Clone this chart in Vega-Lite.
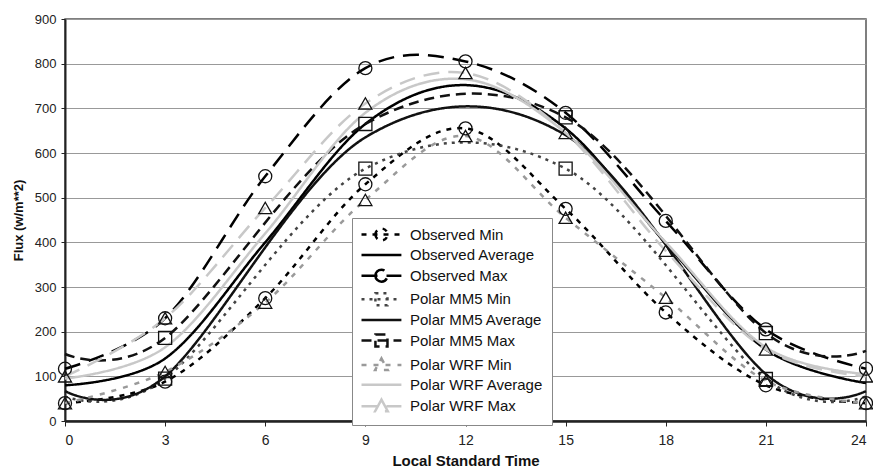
{
  "$schema": "https://vega.github.io/schema/vega-lite/v6.json",
  "width": 801,
  "height": 402,
  "autosize": {"type": "none"},
  "padding": {"left": 65, "top": 19, "right": 7, "bottom": 49},
  "background": "white",
  "config": {
    "font": "Liberation Sans",
    "view": {"stroke": "#555", "strokeWidth": 1.5},
    "axis": {"labelFont": "Liberation Sans", "titleFont": "Liberation Sans", "labelColor": "#222", "titleColor": "#111"}
  },
  "data": {
    "values": [
      {"series": "Observed Min", "hour": 0, "flux": 40},
      {"series": "Observed Min", "hour": 3, "flux": 88},
      {"series": "Observed Min", "hour": 6, "flux": 275},
      {"series": "Observed Min", "hour": 9, "flux": 530},
      {"series": "Observed Min", "hour": 12, "flux": 655},
      {"series": "Observed Min", "hour": 15, "flux": 475},
      {"series": "Observed Min", "hour": 18, "flux": 243},
      {"series": "Observed Min", "hour": 21, "flux": 80},
      {"series": "Observed Min", "hour": 24, "flux": 40},
      {"series": "Observed Average", "hour": 0, "flux": 80},
      {"series": "Observed Average", "hour": 3, "flux": 140},
      {"series": "Observed Average", "hour": 6, "flux": 400},
      {"series": "Observed Average", "hour": 9, "flux": 665},
      {"series": "Observed Average", "hour": 12, "flux": 752},
      {"series": "Observed Average", "hour": 15, "flux": 655},
      {"series": "Observed Average", "hour": 18, "flux": 398},
      {"series": "Observed Average", "hour": 21, "flux": 160},
      {"series": "Observed Average", "hour": 24, "flux": 85},
      {"series": "Observed Max", "hour": 0, "flux": 117},
      {"series": "Observed Max", "hour": 3, "flux": 230},
      {"series": "Observed Max", "hour": 6, "flux": 548},
      {"series": "Observed Max", "hour": 9, "flux": 790},
      {"series": "Observed Max", "hour": 12, "flux": 805},
      {"series": "Observed Max", "hour": 15, "flux": 690},
      {"series": "Observed Max", "hour": 18, "flux": 448},
      {"series": "Observed Max", "hour": 21, "flux": 205},
      {"series": "Observed Max", "hour": 24, "flux": 117},
      {"series": "Polar MM5 Min", "hour": 0, "flux": 55},
      {"series": "Polar MM5 Min", "hour": 3, "flux": 95},
      {"series": "Polar MM5 Min", "hour": 9, "flux": 565},
      {"series": "Polar MM5 Min", "hour": 15, "flux": 565},
      {"series": "Polar MM5 Min", "hour": 21, "flux": 94},
      {"series": "Polar MM5 Min", "hour": 24, "flux": 55},
      {"series": "Polar MM5 Average", "hour": 0, "flux": 67},
      {"series": "Polar MM5 Average", "hour": 3, "flux": 100},
      {"series": "Polar MM5 Average", "hour": 9, "flux": 635},
      {"series": "Polar MM5 Average", "hour": 15, "flux": 640},
      {"series": "Polar MM5 Average", "hour": 21, "flux": 105},
      {"series": "Polar MM5 Average", "hour": 24, "flux": 67},
      {"series": "Polar MM5 Max", "hour": 0, "flux": 150},
      {"series": "Polar MM5 Max", "hour": 3, "flux": 186},
      {"series": "Polar MM5 Max", "hour": 9, "flux": 665},
      {"series": "Polar MM5 Max", "hour": 15, "flux": 680},
      {"series": "Polar MM5 Max", "hour": 21, "flux": 197},
      {"series": "Polar MM5 Max", "hour": 24, "flux": 157},
      {"series": "Polar WRF Min", "hour": 0, "flux": 40},
      {"series": "Polar WRF Min", "hour": 3, "flux": 110},
      {"series": "Polar WRF Min", "hour": 6, "flux": 265},
      {"series": "Polar WRF Min", "hour": 9, "flux": 495},
      {"series": "Polar WRF Min", "hour": 12, "flux": 638},
      {"series": "Polar WRF Min", "hour": 15, "flux": 455},
      {"series": "Polar WRF Min", "hour": 18, "flux": 276},
      {"series": "Polar WRF Min", "hour": 21, "flux": 90},
      {"series": "Polar WRF Min", "hour": 24, "flux": 40},
      {"series": "Polar WRF Average", "hour": 0, "flux": 95},
      {"series": "Polar WRF Average", "hour": 3, "flux": 165},
      {"series": "Polar WRF Average", "hour": 6, "flux": 420},
      {"series": "Polar WRF Average", "hour": 9, "flux": 690},
      {"series": "Polar WRF Average", "hour": 12, "flux": 765},
      {"series": "Polar WRF Average", "hour": 15, "flux": 645},
      {"series": "Polar WRF Average", "hour": 18, "flux": 400},
      {"series": "Polar WRF Average", "hour": 21, "flux": 165},
      {"series": "Polar WRF Average", "hour": 24, "flux": 105},
      {"series": "Polar WRF Max", "hour": 0, "flux": 100},
      {"series": "Polar WRF Max", "hour": 3, "flux": 230},
      {"series": "Polar WRF Max", "hour": 6, "flux": 477},
      {"series": "Polar WRF Max", "hour": 9, "flux": 711},
      {"series": "Polar WRF Max", "hour": 12, "flux": 779},
      {"series": "Polar WRF Max", "hour": 15, "flux": 645},
      {"series": "Polar WRF Max", "hour": 18, "flux": 381},
      {"series": "Polar WRF Max", "hour": 21, "flux": 160},
      {"series": "Polar WRF Max", "hour": 24, "flux": 100}
    ]
  },
  "encoding": {
    "x": {
      "field": "hour", "type": "quantitative",
      "scale": {"domain": [0, 24], "nice": false, "zero": false},
      "axis": {
        "values": [0, 3, 6, 9, 12, 15, 18, 21, 24],
        "title": "Local Standard Time",
        "titleFontSize": 15, "titleFontWeight": "bold", "titlePadding": 6,
        "labelFontSize": 14, "labelPadding": 7, "tickSize": 5, "tickColor": "#222",
        "domainColor": "#222", "domainWidth": 2.5, "grid": false
      }
    },
    "y": {
      "field": "flux", "type": "quantitative",
      "scale": {"domain": [0, 900], "nice": false},
      "axis": {
        "values": [0, 100, 200, 300, 400, 500, 600, 700, 800, 900],
        "title": "Flux (w/m**2)",
        "titleFontSize": 13, "titleFontWeight": "bold", "titlePadding": 9,
        "labelFontSize": 13, "labelPadding": 5, "tickSize": 4, "tickColor": "#222",
        "domainColor": "#222", "domainWidth": 2,
        "grid": true, "gridColor": "#999", "gridWidth": 1
      }
    }
  },
  "layer": [
    {
      "mark": {"type": "line", "interpolate": "cardinal", "tension": 0},
      "encoding": {
        "color": {
          "field": "series", "type": "nominal",
          "scale": {
            "domain": ["Observed Min", "Observed Average", "Observed Max", "Polar MM5 Min", "Polar MM5 Average", "Polar MM5 Max", "Polar WRF Min", "Polar WRF Average", "Polar WRF Max"],
            "range": ["#000000", "#000000", "#000000", "#444444", "#111111", "#111111", "#9a9a9a", "#c8c8c8", "#c8c8c8"]
          },
          "legend": {
            "title": null,
            "orient": "none", "legendX": 287, "legendY": 199,
            "fillColor": "white", "strokeColor": "#888", "padding": 8,
            "rowPadding": 0.6, "labelFontSize": 15, "labelFont": "Liberation Sans", "labelColor": "#111",
            "labelLimit": 300, "labelOffset": 33, "symbolSize": 196, "symbolStrokeWidth": 2.5,
            "encode": {
              "symbols": {
                "update": {
                  "shape": {"signal": "indexof(['Observed Min','Observed Max'], datum.value) >= 0 ? 'M-1,0H4.7M0.99,0A0.86,0.86,0,1,0,2.71,0A0.86,0.86,0,1,0,0.99,0' : (indexof(['Polar MM5 Min','Polar MM5 Max'], datum.value) >= 0 ? 'M-1,0H4.7M0.99,-0.86H2.71V0.86H0.99Z' : (indexof(['Polar WRF Min','Polar WRF Max'], datum.value) >= 0 ? 'M-1,0H4.7M1.85,-0.95L2.75,0.7H0.95Z' : 'M-1,0H4.7'))"},
                  "fill": {"value": "transparent"}
                }
              }
            }
          }
        },
        "strokeDash": {
          "field": "series", "type": "nominal",
          "scale": {
            "domain": ["Observed Min", "Observed Average", "Observed Max", "Polar MM5 Min", "Polar MM5 Average", "Polar MM5 Max", "Polar WRF Min", "Polar WRF Average", "Polar WRF Max"],
            "range": [[5, 6], [1, 0], [16, 9], [3, 5], [1, 0], [10, 6], [5, 7], [1, 0], [16, 9]]
          },
          "legend": {"title": null}
        },
        "strokeWidth": {
          "field": "series", "type": "nominal",
          "scale": {
            "domain": ["Observed Min", "Observed Average", "Observed Max", "Polar MM5 Min", "Polar MM5 Average", "Polar MM5 Max", "Polar WRF Min", "Polar WRF Average", "Polar WRF Max"],
            "range": [2.5, 2.5, 3, 2, 2, 2, 2.5, 3, 3]
          },
          "legend": null
        }
      }
    },
    {
      "transform": [
        {"filter": "indexof(['Observed Average','Polar MM5 Average','Polar WRF Average'], datum.series) < 0 && (indexof(datum.series, 'MM5') < 0 || datum.hour % 6 == 3)"}
      ],
      "mark": {"type": "point", "filled": false, "stroke": "#111", "strokeWidth": 1.3, "size": 170, "opacity": 1, "clip": false},
      "encoding": {
        "shape": {
          "field": "series", "type": "nominal",
          "scale": {
            "domain": ["Observed Min", "Observed Max", "Polar MM5 Min", "Polar MM5 Max", "Polar WRF Min", "Polar WRF Max"],
            "range": ["circle", "circle", "square", "square", "triangle-up", "triangle-up"]
          },
          "legend": null
        }
      }
    }
  ]
}
